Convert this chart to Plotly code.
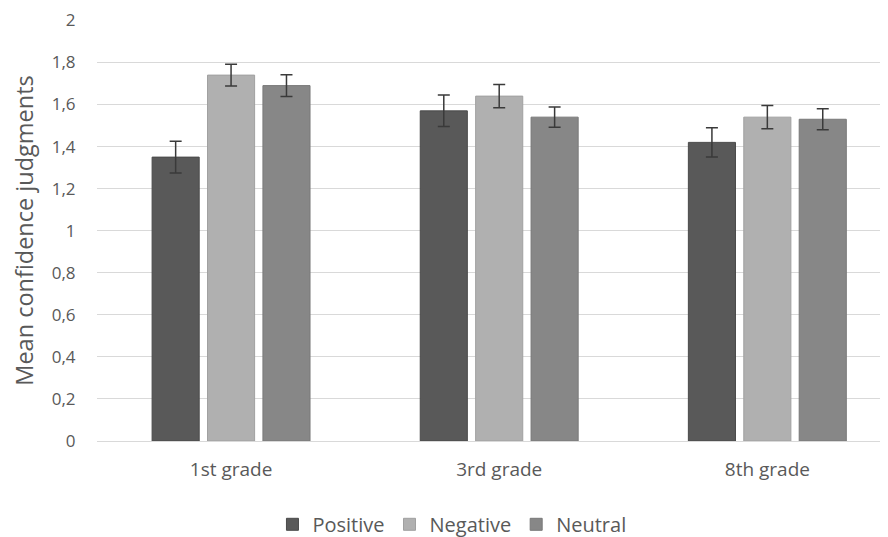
import plotly.graph_objects as go

categories = ["1st grade", "3rd grade", "8th grade"]
series_names = ["Positive", "Negative", "Neutral"]
positive = [1.35, 1.57, 1.42]
negative = [1.74, 1.64, 1.54]
neutral = [1.69, 1.54, 1.53]
positive_err = [0.075, 0.075, 0.07]
negative_err = [0.052, 0.055, 0.055]
neutral_err = [0.052, 0.048, 0.05]
y_ticks = [0, 0.2, 0.4, 0.6, 0.8, 1, 1.2, 1.4, 1.6, 1.8, 2]
y_tick_labels = ["0", "0,2", "0,4", "0,6", "0,8", "1", "1,2", "1,4", "1,6", "1,8", "2"]

colors = ["#595959", "#b0b0b0", "#878787"]
lines = ["#4a4a4a", "#a0a0a0", "#787878"]

fig = go.Figure()
for name, vals, errs, c, lc in zip(series_names, [positive, negative, neutral],
                                   [positive_err, negative_err, neutral_err], colors, lines):
    fig.add_trace(go.Bar(
        name=name, x=categories, y=vals,
        marker=dict(color=c, line=dict(color=lc, width=1)),
        error_y=dict(type="data", array=errs, visible=True, color="#3a3a3a", thickness=1.5, width=6),
    ))

font_family = "Open Sans, Noto Sans, sans-serif"
fig.update_layout(
    width=880, height=529,
    barmode="group", bargap=0.38, bargroupgap=0.15,
    plot_bgcolor="white", paper_bgcolor="white",
    margin=dict(l=89, r=0, t=12, b=96, autoexpand=False),
    font=dict(family=font_family, color="#595959", size=17),
    showlegend=True,
    legend=dict(orientation="h", x=0.5045, xanchor="center", xref="container",
                y=0.024, yanchor="middle", yref="container",
                font=dict(size=20, color="#595959"), traceorder="normal",
                itemwidth=30),
    xaxis=dict(range=[-0.5, 2.45], showgrid=False, showline=True, linecolor="#d9d9d9",
               ticks="outside", ticklen=11, tickcolor="rgba(0,0,0,0)",
               tickfont=dict(size=19, color="#595959"), automargin=False),
    yaxis=dict(range=[0, 2.002], tickvals=y_ticks, ticktext=y_tick_labels,
               showgrid=True, gridcolor="#d9d9d9", gridwidth=1, zeroline=False,
               ticks="outside", ticklen=17, tickcolor="rgba(0,0,0,0)",
               ticklabeloverflow="allow",
               tickfont=dict(size=17, color="#595959"), automargin=False,
               title=dict(text="Mean confidence judgments", font=dict(size=23.5, color="#595959"), standoff=20)),
)

fig.write_html("out.html")
